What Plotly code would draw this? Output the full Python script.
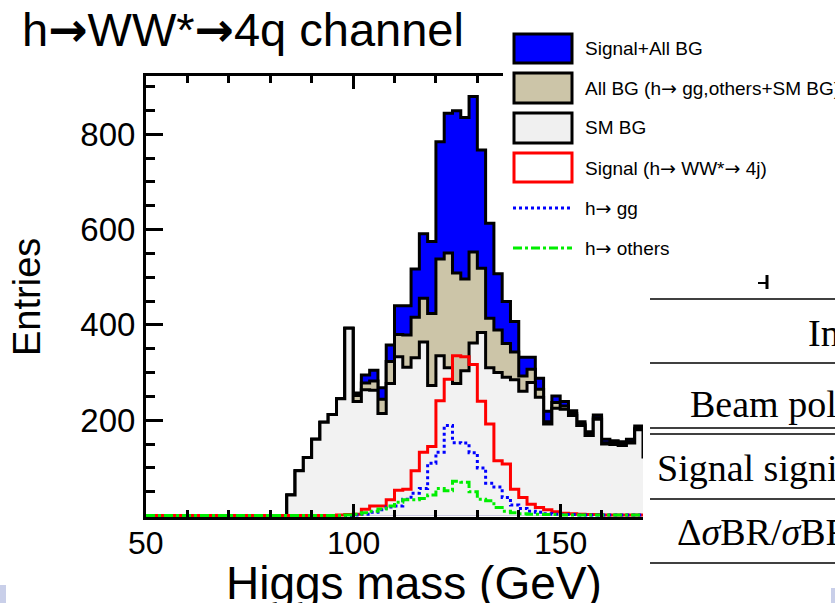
import plotly.graph_objects as go

# ---- histogram binning: 2 GeV bins starting at 50 GeV ----
bin_start = 50
bin_width = 2

# entries per bin, bins 50-52 ... 170-172 GeV
sm_bg = [0, 0, 0, 0, 0, 0, 0, 0, 0, 0, 0, 0, 0, 0, 0, 0, 0,
         43, 94, 122, 160, 196, 212, 245, 393, 239, 264, 263, 214, 277,
         333, 311, 331, 364, 273, 335, 310, 277, 304, 362, 384, 310, 300,
         290, 285, 261, 279, 248, 192, 225, 223, 210, 189, 168, 202, 150,
         149, 147, 152, 180, 123]
all_bg = [0, 0, 0, 0, 0, 0, 0, 0, 0, 0, 0, 0, 0, 0, 0, 0, 0,
          43, 94, 122, 160, 196, 212, 245, 393, 252, 278, 282, 244, 323,
          380, 379, 416, 456, 424, 538, 551, 509, 496, 553, 519, 414, 389,
          361, 343, 293, 307, 265, 197, 237, 230, 214, 192, 171, 205, 153,
          152, 150, 155, 183, 125]
signal_all_bg = [0, 0, 0, 0, 0, 0, 0, 0, 0, 0, 0, 0, 0, 0, 0, 0, 0,
                 43, 94, 122, 160, 196, 212, 245, 393, 257, 295, 305, 268, 358,
                 440, 440, 517, 591, 575, 784, 844, 849, 835, 879, 767, 613, 507,
                 449, 407, 332, 332, 288, 219, 251, 239, 220, 197, 176, 211, 160,
                 157, 155, 160, 188, 128]
signal_ww = [0, 0, 0, 0, 0, 0, 0, 0, 0, 0, 0, 0, 0, 0, 0, 0, 0,
             0, 0, 0, 0, 0, 0, 1, 2, 3, 13, 20, 20, 33,
             53, 55, 94, 133, 145, 241, 286, 335, 333, 317, 240, 192, 115,
             108, 55, 38, 24, 17, 12, 8, 5, 4, 3, 2, 2, 1,
             1, 1, 1, 1, 1]
h_gg = [0, 0, 0, 0, 0, 0, 0, 0, 0, 0, 0, 0, 0, 0, 0, 0, 0,
        0, 0, 0, 0, 0, 0, 0, 0, 1, 3, 7, 12, 18,
        20, 34, 47, 57, 110, 133, 189, 153, 152, 132, 100, 68, 60,
        38, 22, 15, 9, 7, 4, 3, 2, 2, 1, 1, 1, 1,
        1, 1, 1, 1, 1]
h_others = [0, 0, 0, 0, 0, 0, 0, 0, 0, 0, 0, 0, 0, 0, 0, 0, 0,
            0, 0, 0, 0, 0, 0, 0, 1, 3, 6, 9, 14, 20,
            28, 33, 33, 36, 43, 57, 52, 72, 70, 50, 34, 31, 17,
            9, 6, 4, 3, 3, 2, 2, 1, 1, 1, 1, 1, 1,
            1, 1, 1, 1, 1]

x_ticks = [50, 100, 150]
x_minor = [60, 70, 80, 90, 110, 120, 130, 140, 160]
y_ticks = [200, 400, 600, 800]
y_minor = [50, 100, 150, 250, 300, 350, 450, 500, 550, 650, 700, 750, 850, 900]

ARROW = '<span style="font-family:DejaVu Sans">\u2192</span>'
TITLE_ARROW = '<span style="font-family:DejaVu Sans"><b>\u2192</b></span>'

legend_labels = ["Signal+All BG",
                 "All BG (h" + ARROW + " gg,others+SM BG)",
                 "SM BG",
                 "Signal (h" + ARROW + " WW*" + ARROW + " 4j)",
                 "h" + ARROW + " gg",
                 "h" + ARROW + " others"]
table_rows = ["Integrated luminosity", "Beam polarization",
              "Signal significance", "\u0394<i>\u03c3</i>BR/<i>\u03c3</i>BR"]

# ---- page geometry ----
W, H = 835, 603
L, R, T, B = 146, 192, 76, 86
PW, PH = W - L - R, H - T - B


def px(x):
    return (x - L) / PW


def py(y):
    return (H - B - y) / PH


edges = [bin_start + bin_width * i for i in range(len(sm_bg) + 1)]

BLUE = "#0000ff"
TAN = "#ccc5a8"
LIGHT = "#f2f2f2"
RED = "#ff0000"
GREEN = "#00ee00"
SANS = "Liberation Sans, Arial, sans-serif"
SERIF = "Liberation Serif, Times New Roman, serif"


def hist(vals, color, width, fill=None, dash="solid"):
    return go.Scatter(
        x=edges, y=list(vals) + [vals[-1]], mode="lines",
        line=dict(shape="hv", color=color, width=width, dash=dash),
        fill="tozeroy" if fill else "none", fillcolor=fill,
        hoverinfo="skip", showlegend=False)


fig = go.Figure()
fig.add_trace(hist(signal_all_bg, "black", 3, fill=BLUE))
fig.add_trace(hist(all_bg, "black", 3, fill=TAN))
fig.add_trace(hist(sm_bg, "black", 3, fill=LIGHT))
fig.add_trace(hist(signal_ww, RED, 3))
fig.add_trace(hist(h_gg, BLUE, 3, dash="dot"))
fig.add_trace(hist(h_others, GREEN, 3, dash="dashdot"))

shapes = []
annotations = []

# white legend panel over the upper right corner
shapes.append(dict(type="rect", xref="paper", yref="paper", layer="above",
                   x0=px(503), x1=px(840), y0=py(263), y1=py(20),
                   fillcolor="white", line=dict(width=0)))

legend_boxes = [(34, 63, BLUE, "black"), (73, 103, TAN, "black"),
                (113, 143, "#f0f0f0", "black"), (153, 182, "white", RED)]
for (y0, y1, fc, lc) in legend_boxes:
    shapes.append(dict(type="rect", xref="paper", yref="paper", layer="above",
                       x0=px(514), x1=px(572), y0=py(y1), y1=py(y0),
                       fillcolor=fc, line=dict(color=lc, width=3)))
shapes.append(dict(type="line", xref="paper", yref="paper", layer="above",
                   x0=px(513), x1=px(572), y0=py(208), y1=py(208),
                   line=dict(color=BLUE, width=3, dash="dot")))
shapes.append(dict(type="line", xref="paper", yref="paper", layer="above",
                   x0=px(513), x1=px(572), y0=py(248), y1=py(248),
                   line=dict(color=GREEN, width=3, dash="dashdot")))
for lbl, yc in zip(legend_labels, [48, 88, 128, 168, 208, 248]):
    annotations.append(dict(text=lbl, xref="paper", yref="paper",
                            x=px(583), y=py(yc), xanchor="left", yanchor="middle",
                            showarrow=False, font=dict(family=SANS, size=19, color="black")))

# table fragment on the right
for yl in [299, 363, 428, 434, 499, 563]:
    shapes.append(dict(type="line", xref="paper", yref="paper", layer="above",
                       x0=px(650), x1=px(840), y0=py(yl), y1=py(yl),
                       line=dict(color="black", width=1.6)))
shapes.append(dict(type="line", xref="paper", yref="paper", layer="above",
                   x0=px(767), x1=px(767), y0=py(289), y1=py(275),
                   line=dict(color="black", width=3)))
shapes.append(dict(type="line", xref="paper", yref="paper", layer="above",
                   x0=px(758), x1=px(767), y0=py(283), y1=py(283),
                   line=dict(color="black", width=2)))
for txt, x0, yc in zip(table_rows, [806, 688, 655, 675], [333, 404, 468, 532]):
    annotations.append(dict(text=txt, xref="paper", yref="paper",
                            x=px(x0), y=py(yc), xanchor="left", yanchor="middle",
                            showarrow=False, font=dict(family=SERIF, size=38, color="black")))

# small slide decorations at the bottom corners
shapes.append(dict(type="rect", xref="paper", yref="paper", layer="above",
                   x0=px(0), x1=px(6), y0=py(603), y1=py(585),
                   fillcolor="#c9cfe9", line=dict(width=0)))
shapes.append(dict(type="rect", xref="paper", yref="paper", layer="above",
                   x0=px(831), x1=px(835), y0=py(603), y1=py(588),
                   fillcolor="#c9cfe9", line=dict(width=0)))

# x tick labels placed under the axis
for v in x_ticks:
    annotations.append(dict(text=str(v), xref="x", yref="paper",
                            x=v, y=py(543), xanchor="center", yanchor="middle",
                            showarrow=False, font=dict(family=SANS, size=32, color="black")))

# titles
annotations.append(dict(text="h" + TITLE_ARROW + "WW*" + TITLE_ARROW + "4q channel",
                        xref="paper", yref="paper",
                        x=px(20), y=py(29), xanchor="left", yanchor="middle",
                        showarrow=False, font=dict(family=SANS, size=47, color="black")))
annotations.append(dict(text="Higgs mass (GeV)", xref="paper", yref="paper",
                        x=px(414), y=py(583), xanchor="center", yanchor="middle",
                        showarrow=False, font=dict(family=SANS, size=46, color="black")))
annotations.append(dict(text="Entries", xref="paper", yref="paper", textangle=-90,
                        x=px(27), y=py(297), xanchor="center", yanchor="middle",
                        showarrow=False, font=dict(family=SANS, size=38, color="black")))

fig.update_layout(
    width=W, height=H, margin=dict(l=L, r=R, t=T, b=B, pad=0),
    paper_bgcolor="white", plot_bgcolor="white", showlegend=False,
    shapes=shapes, annotations=annotations,
    xaxis=dict(range=[50, 170], showline=True, linecolor="black", linewidth=3,
               mirror="ticks", ticks="inside", ticklen=13, tickwidth=3, tickcolor="black",
               tickmode="array", tickvals=x_ticks, showticklabels=False,
               minor=dict(tickmode="array", tickvals=x_minor, ticks="inside",
                          ticklen=7, tickwidth=3, tickcolor="black"),
               showgrid=False, zeroline=False),
    yaxis=dict(range=[-3, 922], showline=True, linecolor="black", linewidth=3,
               mirror=False, ticks="inside", ticklen=17, tickwidth=3, tickcolor="black",
               tickmode="array", tickvals=y_ticks, ticktext=[str(v) for v in y_ticks],
               minor=dict(tickmode="array", tickvals=y_minor, ticks="inside",
                          ticklen=9, tickwidth=3, tickcolor="black"),
               showgrid=False, zeroline=False, ticklabelstandoff=1,
               tickfont=dict(family=SANS, size=33, color="black")),
)

fig.write_html("out.html")
